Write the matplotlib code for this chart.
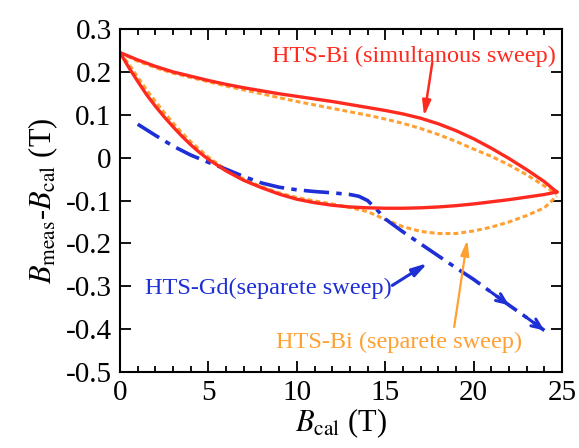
import numpy as np
import matplotlib
matplotlib.use('Agg')
import matplotlib.pyplot as plt
from matplotlib.ticker import MultipleLocator, FuncFormatter

plt.rcParams['font.family'] = ['Liberation Serif', 'DejaVu Serif']
plt.rcParams['mathtext.fontset'] = 'stix'
plt.rcParams['axes.unicode_minus'] = False

# HTS-Bi, balayage simultane (rouge) : descente puis montee
red_down_B = [0, 1, 2, 3, 4, 5, 6, 7, 8, 9, 10, 11, 12, 13, 14, 15, 16, 17, 18, 19, 20, 21, 22, 23, 24, 24.7]
red_down_v = [0.245, 0.228, 0.213, 0.2, 0.19, 0.18, 0.171, 0.163, 0.156, 0.149, 0.143, 0.137, 0.131,
              0.124, 0.117, 0.11, 0.102, 0.092, 0.079, 0.063, 0.044, 0.022, -0.002, -0.028, -0.056, -0.08]
red_up_B = [0, 0.5, 1, 1.5, 2, 2.5, 3, 3.5, 4, 4.5, 5, 6, 7, 8, 9, 10, 11, 12, 13, 14, 15, 16, 17, 18,
            19, 20, 21, 22, 23, 24, 24.7]
red_up_v = [0.245, 0.21, 0.178, 0.147, 0.12, 0.095, 0.072, 0.05, 0.03, 0.012, -0.004, -0.031, -0.053,
            -0.07, -0.085, -0.097, -0.105, -0.111, -0.115, -0.117, -0.118, -0.118, -0.117, -0.115,
            -0.112, -0.108, -0.103, -0.098, -0.092, -0.086, -0.08]

# HTS-Bi, balayage separe (orange)
orange_down_B = [0, 1, 2, 3, 4, 5, 6, 7, 8, 9, 10, 11, 12, 13, 14, 15, 16, 17, 18, 19, 20, 21, 22, 23,
                 24, 24.7]
orange_down_v = [0.245, 0.225, 0.21, 0.197, 0.187, 0.177, 0.167, 0.158, 0.149, 0.14, 0.131, 0.123,
                 0.115, 0.107, 0.099, 0.09, 0.08, 0.068, 0.054, 0.038, 0.02, 0.003, -0.017, -0.04,
                 -0.066, -0.085]
orange_up_B = [0, 0.5, 1, 1.5, 2, 2.5, 3, 3.5, 4, 5, 6, 7, 8, 9, 10, 11, 12, 13, 14, 15, 16, 17, 18, 19,
               20, 21, 22, 23, 24, 24.7]
orange_up_v = [0.245, 0.218, 0.188, 0.158, 0.131, 0.105, 0.081, 0.058, 0.037, 0.001, -0.028, -0.05,
               -0.068, -0.082, -0.093, -0.101, -0.108, -0.116, -0.126, -0.144, -0.161, -0.172, -0.177,
               -0.177, -0.171, -0.162, -0.15, -0.135, -0.117, -0.09]

# HTS-Gd, balayage separe (bleu)
blue_B = [1, 1.5, 2, 3, 4, 5, 6, 7, 8, 9, 10, 11, 12, 13, 13.5, 14, 14.5, 15, 16, 17, 18, 19, 20, 21,
          22, 23, 24]
blue_v = [0.078, 0.065, 0.052, 0.027, 0.006, -0.011, -0.027, -0.044, -0.059, -0.069, -0.075, -0.079,
          -0.082, -0.086, -0.09, -0.1, -0.12, -0.143, -0.173, -0.201, -0.229, -0.257, -0.284, -0.314,
          -0.344, -0.373, -0.403]

x_ticks = [0, 5, 10, 15, 20, 25]
y_ticks = [-0.5, -0.4, -0.3, -0.2, -0.1, 0, 0.1, 0.2, 0.3]

ROUGE = '#ff2a1f'
ORANGE = '#ffa033'
BLEU = '#1e2fd6'

fig = plt.figure(figsize=(5.79, 4.48), dpi=100)
ax = fig.add_axes([0.2073, 0.1696, 0.7634, 0.7656])

ax.plot(orange_down_B, orange_down_v, color=ORANGE, lw=2.2, ls=(0, (1.6, 1.0)))
ax.plot(orange_up_B, orange_up_v, color=ORANGE, lw=2.2, ls=(0, (1.6, 1.0)))
ax.plot(blue_B, blue_v, color=BLEU, lw=2.6, ls=(0, (7, 2, 1.5, 2)))
ax.plot(red_down_B, red_down_v, color=ROUGE, lw=2.4)
ax.plot(red_up_B, red_up_v, color=ROUGE, lw=2.4)

# petites fleches de sens sur la courbe bleue
for i in [len(blue_B) - 4, len(blue_B) - 2]:
    ax.annotate('', xy=(blue_B[i + 1], blue_v[i + 1]), xytext=(blue_B[i], blue_v[i]),
                arrowprops=dict(arrowstyle='->,head_length=0.7,head_width=0.3', color=BLEU, lw=2.2,
                                shrinkA=0, shrinkB=0))

# textes et fleches
ax.text(16.65, 0.235, 'HTS-Bi (simultanous sweep)', color=ROUGE, fontsize=17.5, ha='center', va='center')
ax.annotate('', xy=(17.2, 0.097), xytext=(17.66, 0.221),
            arrowprops=dict(arrowstyle='-|>,head_length=0.9,head_width=0.25', color=ROUGE, lw=1.8,
                            shrinkA=0, shrinkB=0))
ax.text(8.38, -0.304, 'HTS-Gd(separete sweep)', color=BLEU, fontsize=17.5, ha='center', va='center')
ax.annotate('', xy=(17.4, -0.246), xytext=(15.4, -0.298),
            arrowprops=dict(arrowstyle='-|>,head_length=0.9,head_width=0.25', color=BLEU, lw=2.2,
                            shrinkA=0, shrinkB=0))
ax.text(15.8, -0.432, 'HTS-Bi (separete sweep)', color=ORANGE, fontsize=17.5, ha='center', va='center')
ax.annotate('', xy=(19.64, -0.192), xytext=(18.9, -0.395),
            arrowprops=dict(arrowstyle='-|>,head_length=0.9,head_width=0.25', color=ORANGE, lw=1.6,
                            shrinkA=0, shrinkB=0))

ax.set_xlim(0, 25)
ax.set_ylim(-0.5, 0.3)
ax.set_xticks(x_ticks)
ax.set_yticks(y_ticks)
ax.xaxis.set_minor_locator(MultipleLocator(1))
ax.yaxis.set_major_formatter(FuncFormatter(lambda v, p: '0' if abs(v) < 1e-9 else '%g' % v))
ax.tick_params(which='both', direction='in', top=True, right=True, labelsize=21, width=1.3, pad=6)
ax.tick_params(which='major', length=8)
ax.tick_params(which='minor', length=4)
for s in ax.spines.values():
    s.set_linewidth(1.5)

ax.set_xlabel(r'$B_{\rm cal}$ (T)', fontsize=22, labelpad=0)
ax.set_ylabel(r'$B_{\rm meas}$-$B_{\rm cal}$ (T)', fontsize=22, labelpad=4)

fig.savefig('out.png', dpi=100)
